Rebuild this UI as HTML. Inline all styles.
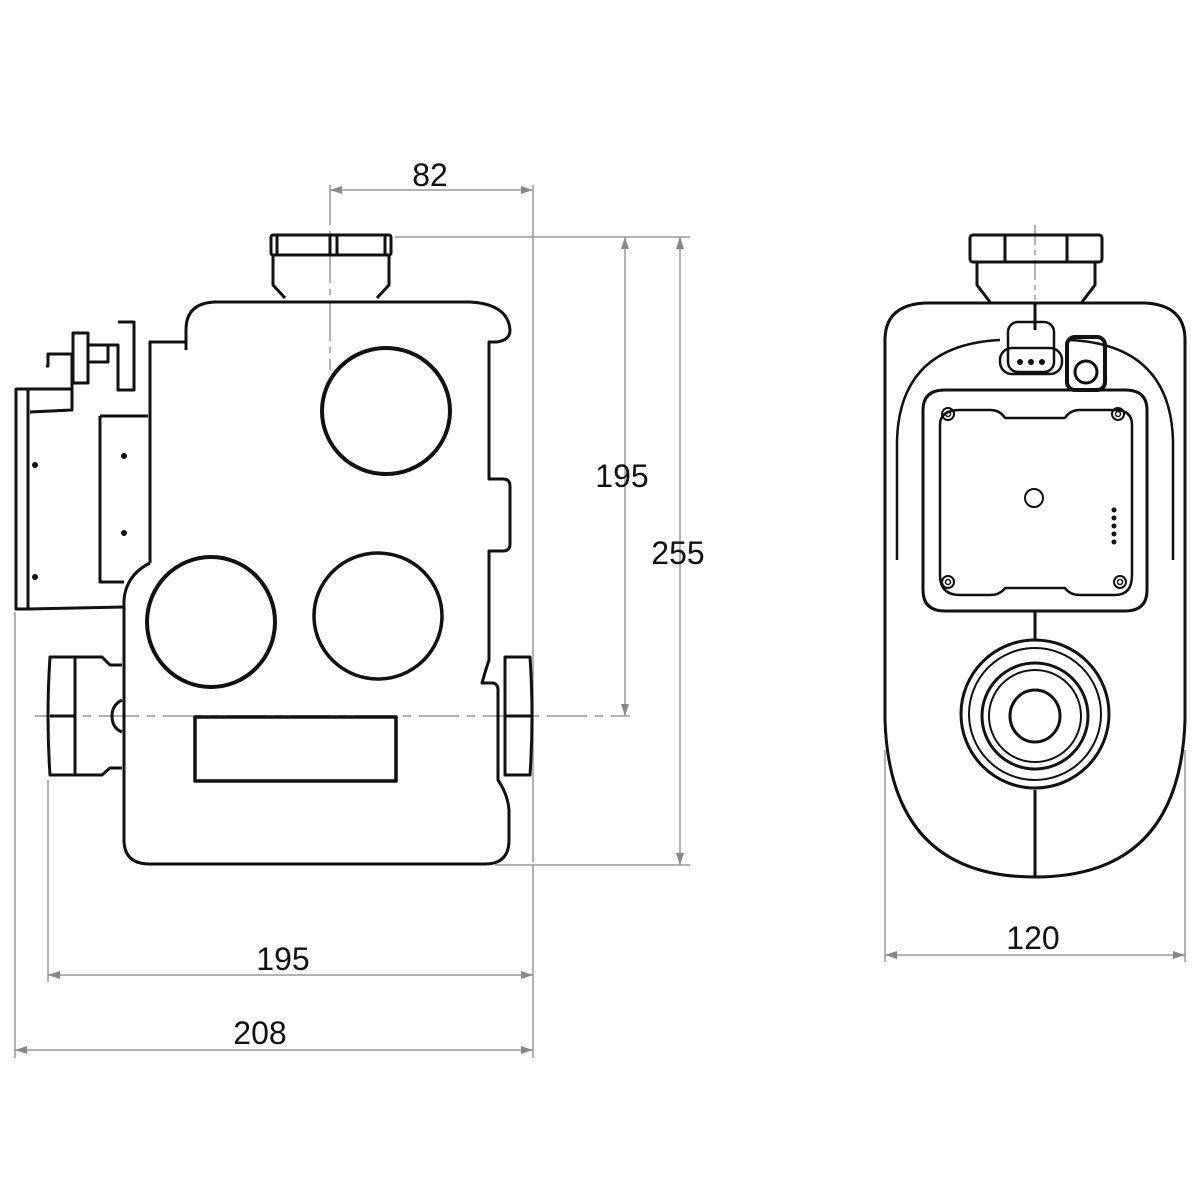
<!DOCTYPE html>
<html><head><meta charset="utf-8"><style>html,body{margin:0;padding:0;background:#fff}svg{display:block}</style></head><body>
<svg width="1200" height="1200" viewBox="0 0 1200 1200" xmlns="http://www.w3.org/2000/svg">
<defs>
<marker id="a" viewBox="0 0 12 8" refX="12" refY="4" markerWidth="12" markerHeight="8" orient="auto-start-reverse" markerUnits="userSpaceOnUse"><path d="M0,0 L12,4 L0,8 z" fill="#888"/></marker>
</defs>
<g stroke="#999" stroke-width="1.5" fill="none">
<line x1="330" y1="185" x2="330" y2="370" stroke-dasharray="40,6,6,6"/>
<line x1="533" y1="185" x2="533" y2="862"/>
<line x1="395" y1="237" x2="690" y2="237"/>
<line x1="495" y1="865" x2="690" y2="865"/>
<line x1="35" y1="716" x2="630" y2="716" stroke-dasharray="40,8,8,8"/>
<line x1="48" y1="780" x2="48" y2="982"/>
<line x1="15" y1="612" x2="15" y2="1058"/>
<line x1="533" y1="865" x2="533" y2="1058"/>
<line x1="885" y1="750" x2="885" y2="962"/>
<line x1="1185" y1="750" x2="1185" y2="962"/>
<line x1="1035" y1="225" x2="1035" y2="300" stroke-dasharray="20,5,5,5"/>
<line x1="330" y1="190" x2="533" y2="190" marker-start="url(#a)" marker-end="url(#a)"/>
<line x1="625" y1="237" x2="625" y2="716" marker-start="url(#a)" marker-end="url(#a)"/>
<line x1="680" y1="237" x2="680" y2="865" marker-start="url(#a)" marker-end="url(#a)"/>
<line x1="48" y1="975" x2="533" y2="975" marker-start="url(#a)" marker-end="url(#a)"/>
<line x1="15" y1="1050" x2="533" y2="1050" marker-start="url(#a)" marker-end="url(#a)"/>
<line x1="885" y1="955" x2="1185" y2="955" marker-start="url(#a)" marker-end="url(#a)"/>
</g>
<g font-family="Liberation Sans, sans-serif" font-size="32" fill="#111" text-anchor="middle">
<text x="430" y="186">82</text>
<text x="622" y="487">195</text>
<text x="678" y="564">255</text>
<text x="283" y="970">195</text>
<text x="260" y="1044">208</text>
<text x="1033" y="949">120</text>
</g>
<g stroke="#111" stroke-width="3" fill="none" stroke-linejoin="round">
<rect x="271" y="235" width="120" height="20" rx="2"/>
<line x1="330" y1="235" x2="330" y2="255"/><line x1="337" y1="235" x2="337" y2="255"/>
<line x1="277" y1="235" x2="277" y2="255"/><line x1="385" y1="235" x2="385" y2="255"/>
<path d="M273,255 L273,285 L285,298 M389,255 L389,285 L377,298"/>
<path d="M186,350 L186,330 Q186,303 215,302 L470,302 Q508,304 510,330 Q510,340 497,342 L489,342 L489,479 L503,479 Q510,479 510,486 L510,544 Q510,551 503,551 L489,551 L489,660 Q485,672 482,683 L493,683 Q498,684 498,690 L498,780 Q508,795 509,810 L509,840 Q509,864 485,864 L150,864 Q124,864 124,840 L124,600 Q126,575 150,563"/>
<path d="M186,330 L186,342 L150,342 L150,563"/>
<ellipse cx="386" cy="411" rx="64" ry="63" stroke-width="4"/>
<ellipse cx="211" cy="622" rx="64" ry="65" stroke-width="4"/>
<ellipse cx="378" cy="616" rx="64" ry="63" stroke-width="3.5"/>
<rect x="195" y="717" width="201" height="64" stroke-width="3.5"/>
<path d="M50,657 L75,657 L75,775 L50,775 Q46,716 50,657 Z"/>
<line x1="50" y1="716" x2="75" y2="716"/>
<path d="M75,657 L102,657 L110,665 L122,665 M75,775 L102,775 L110,768 L122,768"/>
<path d="M122,700 Q112,705 112,716 Q112,728 122,732"/>
<path d="M505,657 L530,657 Q534,716 530,775 L505,775 Z"/>
<line x1="505" y1="716" x2="532" y2="716"/>
<rect x="16" y="389" width="12" height="220"/>
<path d="M28,389 L72,389 L72,354 L48,354 L48,366 L46,366 M28,609 L124,607"/>
<rect x="73" y="333" width="15" height="50"/>
<path d="M88,345 L108,345 L108,362 L88,362"/>
<path d="M72,389 L72,410 L30,412"/>
<path d="M118,322 L134,322 L134,390 L118,390 L118,345 L108,345"/>
<path d="M100,416 L148,416 M100,416 L100,582 L124,582"/>
<circle cx="35" cy="465" r="1.5"/><circle cx="35" cy="577" r="1.5"/><circle cx="124" cy="456" r="1.5"/><circle cx="124" cy="533" r="1.5"/>
<rect x="970" y="235" width="132" height="27" rx="3"/>
<line x1="1005" y1="235" x2="1005" y2="262"/><line x1="1067" y1="235" x2="1067" y2="262"/>
<path d="M977,262 L977,285 L990,302 M1095,262 L1095,285 L1082,302"/>
<path d="M1035,302 L1035,330"/>
<path d="M885,340 Q885,305 925,303 L1145,303 Q1185,305 1185,340 L1185,720 Q1180,877 1035,877 Q890,877 885,720 Z"/>
<path d="M897,560 L897,440 Q900,345 1000,340 M1173,560 L1173,440 Q1170,345 1070,340" stroke-width="2.5"/>
<path d="M923,410 Q923,390 945,390 L1125,390 Q1147,390 1147,410 L1147,590 Q1147,611 1125,611 L945,611 Q923,611 923,590 Z"/>
<path d="M940,425 Q940,410 960,410 L990,410 Q1000,410 1005,418 L1065,418 Q1070,410 1080,410 L1115,410 Q1132,410 1132,425 L1132,575 Q1132,595 1115,595 L1080,595 Q1070,595 1065,588 L1005,588 Q1000,595 990,595 L960,595 Q940,595 940,575 Z" stroke-width="2.5"/>
<circle cx="948" cy="414" r="6" stroke-width="2"/><circle cx="1118" cy="414" r="6" stroke-width="2"/>
<circle cx="948" cy="582" r="6" stroke-width="2"/><circle cx="1120" cy="582" r="6" stroke-width="2"/>
<circle cx="948" cy="414" r="2.5" stroke-width="1.5"/><circle cx="1118" cy="414" r="2.5" stroke-width="1.5"/>
<circle cx="948" cy="582" r="2.5" stroke-width="1.5"/><circle cx="1120" cy="582" r="2.5" stroke-width="1.5"/>
<circle cx="1034" cy="498" r="9" stroke-width="2"/>
<rect x="1008" y="322" width="46" height="50" rx="10" stroke-width="2.5"/>
<rect x="1000" y="348" width="62" height="26" rx="12" stroke-width="2.5"/>
<rect x="1067" y="337" width="38" height="53" rx="8" stroke-width="4"/>
<circle cx="1086" cy="372" r="11" stroke-width="3"/>
<line x1="1035" y1="611" x2="1035" y2="640"/>
<ellipse cx="1035" cy="714" rx="74" ry="74"/>
<ellipse cx="1035" cy="714" rx="66" ry="66" stroke-width="2"/>
<ellipse cx="1035" cy="716" rx="53" ry="53"/>
<ellipse cx="1035" cy="716" rx="46" ry="46" stroke-width="2"/>
<ellipse cx="1035" cy="716" rx="25" ry="26"/>
<line x1="1035" y1="790" x2="1035" y2="877"/>
</g>
<g fill="#111"><circle cx="1114" cy="510" r="2.5"/><circle cx="1114" cy="518" r="2.5"/><circle cx="1114" cy="526" r="2.5"/><circle cx="1114" cy="534" r="2.5"/><circle cx="1114" cy="542" r="2.5"/>
<circle cx="1020" cy="362" r="3"/><circle cx="1031" cy="362" r="3"/><circle cx="1042" cy="362" r="3"/></g>
</svg>
</body></html>
